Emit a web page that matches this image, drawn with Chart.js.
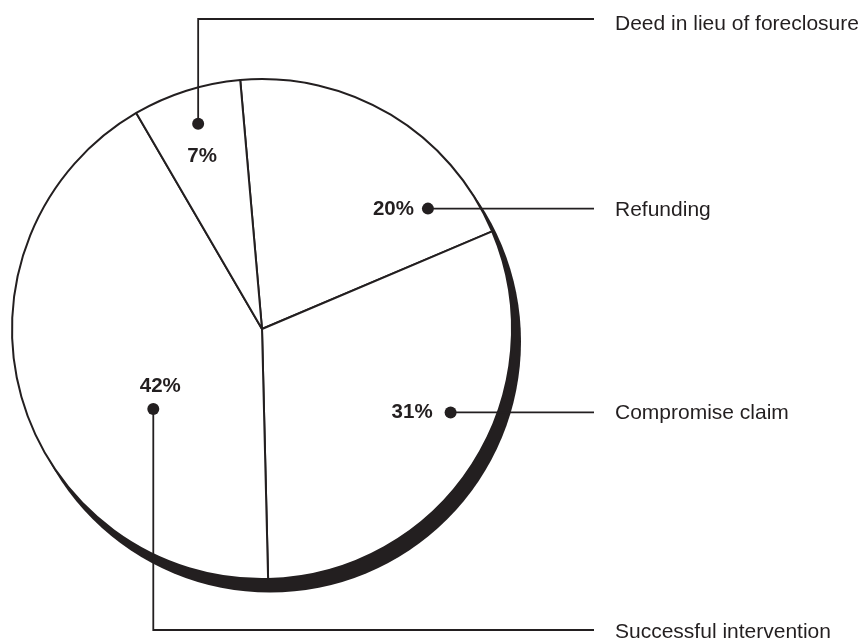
<!DOCTYPE html>
<html>
<head>
<meta charset="utf-8">
<script src="https://cdn.jsdelivr.net/npm/chart.js@4.4.1/dist/chart.umd.min.js"></script>
<style>
  body { margin: 0; background: #fff; }
  #wrap { width: 863px; height: 641px; position: relative; }
</style>
</head>
<body>
<div id="wrap"><canvas id="pieChart"></canvas></div>
<script>
// slices go clockwise from just left of twelve o'clock
const categories = ['Refunding', 'Compromise claim', 'Successful intervention', 'Deed in lieu of foreclosure'];
const shares = [20, 31, 42, 7];

const ink = '#231f20';

// where each callout dot sits inside its slice (fraction of the sweep, fraction of radius)
// and how the leader line leaves it
const callouts = [
    { at: 0.82, r: 0.82, route: 'right', pctDx: -14, pctDy: 6, pctAlign: 'right', nameDy: 7 },
    { at: 0.42, r: 0.825, route: 'right', pctDx: -18, pctDy: 6, pctAlign: 'right', nameDy: 7 },
    { at: 0.364, r: 0.54, route: 'down', pctDx: 7, pctDy: -17, pctAlign: 'center', nameDy: 8 },
    { at: 0.513, r: 0.86, route: 'up', pctDx: 4, pctDy: 38, pctAlign: 'center', nameDy: 11 }
];

const calloutPlugin = {
    id: 'callouts',
    beforeDatasetsDraw(chart, args, opts) {
        // dark crescent under the lower right of the pie
        const arc = chart.getDatasetMeta(0).data[0];
        const ctx = chart.ctx;
        ctx.save();
        ctx.fillStyle = ink;
        ctx.beginPath();
        ctx.arc(arc.x + opts.shadowX, arc.y + opts.shadowY, arc.outerRadius + 1, 0, Math.PI * 2);
        ctx.fill();
        ctx.restore();
    },
    afterDatasetsDraw(chart, args, opts) {
        const ctx = chart.ctx;
        const meta = chart.getDatasetMeta(0);
        ctx.save();
        ctx.strokeStyle = ink;
        ctx.fillStyle = ink;
        ctx.lineWidth = 1.8;
        meta.data.forEach((el, i) => {
            const c = callouts[i];
            const a = el.startAngle + c.at * (el.endAngle - el.startAngle);
            const px = el.x + Math.cos(a) * el.outerRadius * c.r;
            const py = el.y + Math.sin(a) * el.outerRadius * c.r;

            // leader line
            let lineY = py;
            ctx.beginPath();
            ctx.moveTo(px, py);
            if (c.route === 'up') {
                lineY = opts.topY;
                ctx.lineTo(px, lineY);
            } else if (c.route === 'down') {
                lineY = opts.bottomY;
                ctx.lineTo(px, lineY);
            }
            ctx.lineTo(opts.lineEnd, lineY);
            ctx.stroke();

            // dot
            ctx.beginPath();
            ctx.arc(px, py, 6, 0, Math.PI * 2);
            ctx.fill();

            // percentage
            ctx.font = 'bold 20.5px "Liberation Sans", Arial, sans-serif';
            ctx.textAlign = c.pctAlign;
            ctx.textBaseline = 'alphabetic';
            ctx.fillText(shares[i] + '%', px + c.pctDx, py + c.pctDy);

            // category name
            ctx.font = '21px "Liberation Sans", Arial, sans-serif';
            ctx.textAlign = 'left';
            ctx.fillText(categories[i], opts.nameX, lineY + c.nameDy);
        });
        ctx.restore();
    }
};

new Chart(document.getElementById('pieChart'), {
    type: 'pie',
    data: {
        labels: categories,
        datasets: [{
            data: shares,
            backgroundColor: '#ffffff',
            borderColor: ink,
            borderWidth: 2
        }]
    },
    options: {
        responsive: true,
        maintainAspectRatio: false,
        animation: false,
        rotation: -5,
        layout: { padding: { left: 11, top: 78, right: 350, bottom: 61 } },
        plugins: {
            legend: { display: false },
            tooltip: { enabled: false },
            callouts: {
                shadowX: 8,
                shadowY: 12.5,
                topY: 19,
                bottomY: 630,
                lineEnd: 594,
                nameX: 615
            }
        }
    },
    plugins: [calloutPlugin]
});
</script>
</body>
</html>
